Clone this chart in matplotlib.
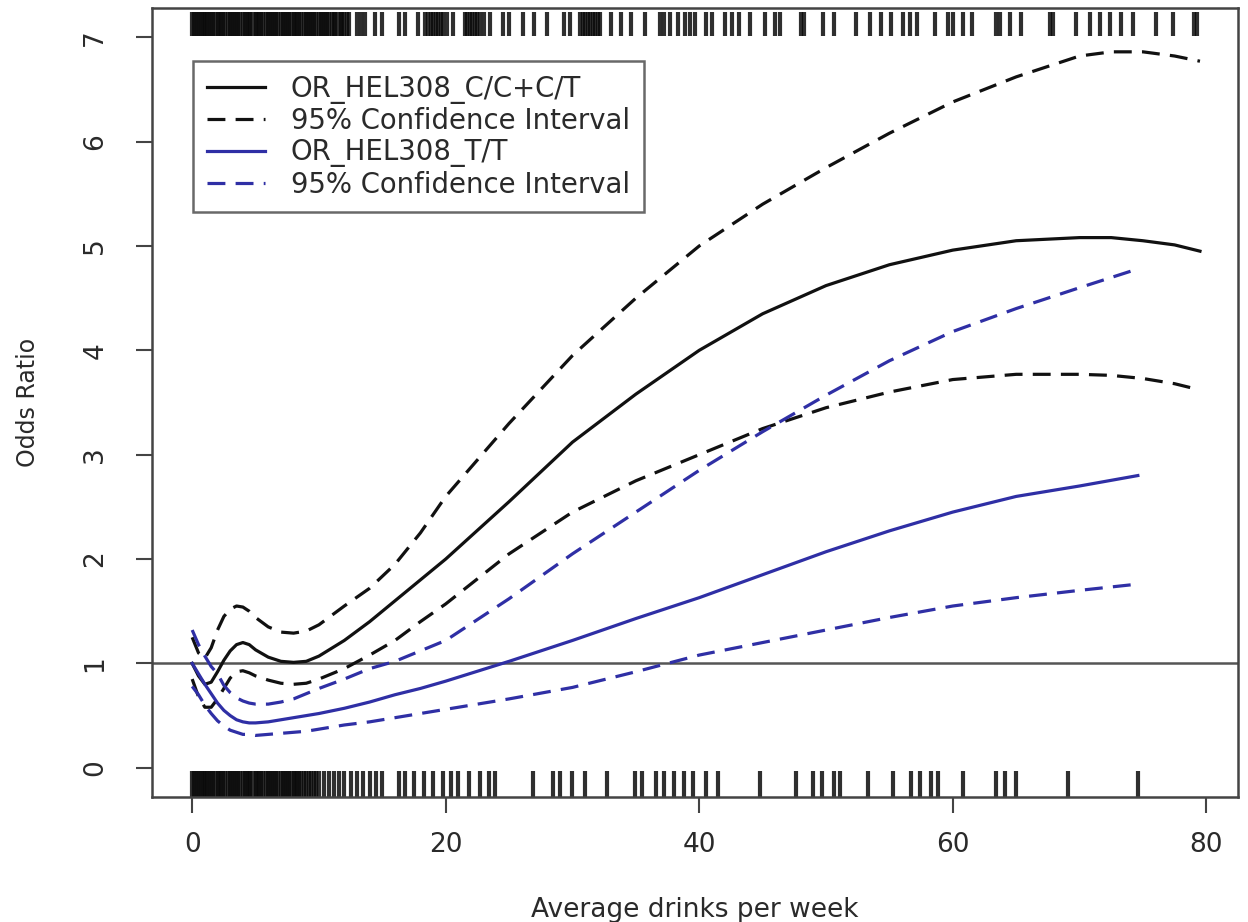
import matplotlib
matplotlib.use("Agg")
import matplotlib.pyplot as plt
import matplotlib.transforms as mtransforms

plt.rcParams['font.family'] = ['DejaVu Sans']

# ---- data ----
x_black = [0, 0.5, 1, 1.5, 2, 2.5, 3, 3.5, 4, 4.5, 5, 6, 7, 8, 9, 10, 12, 14, 16, 18,
           20, 25, 30, 35, 40, 45, 50, 55, 60, 65, 70, 72.5, 75, 77.5, 79.5]
or_cc = [1.0, 0.88, 0.8, 0.82, 0.92, 1.03, 1.12, 1.18, 1.2, 1.18, 1.13, 1.06, 1.02, 1.01, 1.02, 1.07,
         1.22, 1.4, 1.6, 1.8, 2.0, 2.55, 3.12, 3.58, 4.0, 4.35, 4.62, 4.82, 4.96, 5.05, 5.08, 5.08,
         5.05, 5.01, 4.95]
ci_cc_upper = [1.25, 1.1, 1.05, 1.15, 1.32, 1.45, 1.52, 1.55, 1.54, 1.5, 1.44, 1.35, 1.3, 1.29, 1.31, 1.37,
               1.55, 1.72, 1.95, 2.25, 2.6, 3.3, 3.95, 4.5, 5.0, 5.4, 5.75, 6.08, 6.38, 6.62, 6.82, 6.86,
               6.86, 6.82, 6.77]
ci_cc_lower = [0.85, 0.68, 0.58, 0.58, 0.66, 0.76, 0.86, 0.92, 0.93, 0.91, 0.88, 0.84, 0.81, 0.8, 0.81, 0.85,
               0.95, 1.08, 1.22, 1.4, 1.57, 2.05, 2.45, 2.75, 3.0, 3.25, 3.45, 3.6, 3.72, 3.77, 3.77, 3.76,
               3.73, 3.68, 3.62]

x_blue = [0, 0.5, 1, 1.5, 2, 2.5, 3, 3.5, 4, 4.5, 5, 6, 7, 8, 9, 10, 12, 14, 16, 18,
          20, 25, 30, 35, 40, 45, 50, 55, 60, 65, 70, 74.6]
or_tt = [1.0, 0.9, 0.8, 0.71, 0.62, 0.55, 0.5, 0.46, 0.44, 0.43, 0.43, 0.44, 0.46, 0.48, 0.5, 0.52,
         0.57, 0.63, 0.7, 0.76, 0.83, 1.02, 1.22, 1.43, 1.63, 1.85, 2.07, 2.27, 2.45, 2.6, 2.7, 2.8]
ci_tt_upper = [1.32, 1.18, 1.07, 0.97, 0.9, 0.79, 0.72, 0.67, 0.64, 0.62, 0.61, 0.61, 0.63, 0.66, 0.71, 0.76,
               0.85, 0.95, 1.02, 1.12, 1.22, 1.62, 2.05, 2.45, 2.85, 3.22, 3.57, 3.9, 4.18, 4.4, 4.6, 4.78]
ci_tt_lower = [0.78, 0.7, 0.6, 0.52, 0.45, 0.4, 0.36, 0.34, 0.32, 0.32, 0.31, 0.32, 0.33, 0.34, 0.35, 0.37,
               0.41, 0.44, 0.48, 0.52, 0.56, 0.66, 0.77, 0.92, 1.08, 1.2, 1.32, 1.44, 1.55, 1.63, 1.7, 1.76]

# rug positions (drinks per week)
rug_top = [0, 0.15, 0.3, 0.45, 0.6, 0.75, 0.9, 1, 1.15, 1.3, 1.5, 1.65, 1.8, 2, 2.15, 2.3, 2.45,
           2.6, 2.8, 3, 3.15, 3.3, 3.45, 3.6, 3.8, 4, 4.15, 4.3, 4.45, 4.6, 4.8, 5, 5.15, 5.3,
           5.45, 5.6, 5.8, 6, 6.15, 6.3, 6.45, 6.6, 6.8, 7, 7.15, 7.3, 7.45, 7.6, 7.8, 8, 8.15,
           8.3, 8.45, 8.6, 8.8, 9, 9.15, 9.3, 9.45, 9.6, 9.8, 10, 10.15, 10.3, 10.45, 10.6, 10.8,
           11, 11.15, 11.3, 11.5, 11.7, 11.85, 12, 12.2, 12.4, 13, 13.3, 13.6, 14.4, 15, 16.3,
           16.8, 17.8, 18.4, 18.6, 18.8, 19.0, 19.2, 19.4, 19.6, 19.8, 20.1, 20.6,
           21.5, 21.7, 21.9, 22.1, 22.3, 22.5, 22.7, 23, 23.5, 24.5, 25, 26.1, 27, 28, 29.3, 29.8,
           30.6, 30.8, 31.0, 31.2, 31.4, 31.6, 31.8, 32.0, 32.2, 33, 33.8, 34.6, 35.7, 36.9,
           37.2, 37.7, 38.3, 38.9, 39.3, 39.7, 40.5, 41,
           42, 42.6, 43.1, 44, 45.2, 46, 46.4, 48, 48.3, 49.8, 50.6, 52.4, 53.5, 54.3, 55.1, 56.1,
           56.6, 57.2, 58.6, 59.6, 60, 60.8, 61.5, 63.4, 63.7, 64.5, 65.4, 67.7, 67.9, 69.7, 70.8,
           71.6, 72.4, 73.3, 74.2, 76, 77.4, 79, 79.3]
rug_bottom = [0, 0.15, 0.3, 0.45, 0.6, 0.75, 0.9, 1, 1.15, 1.3, 1.5, 1.65, 1.8, 2, 2.15, 2.3,
              2.45, 2.6, 2.8, 3, 3.15, 3.3, 3.45, 3.6, 3.8, 4, 4.15, 4.3, 4.45, 4.6, 4.8, 5,
              5.15, 5.3, 5.45, 5.6, 5.8, 6, 6.15, 6.3, 6.45, 6.6, 6.8, 7, 7.15, 7.3, 7.45, 7.6,
              7.8, 8, 8.15, 8.3, 8.45, 8.6, 8.8, 9, 9.2, 9.4, 9.6, 9.8, 10, 10.4, 10.8, 11.2,
              11.6, 12, 12.5, 13, 13.5, 14, 14.5, 15, 16.3, 16.8, 17.5, 18.3, 19, 19.8, 20.4, 21,
              21.8, 22.7, 23.4, 23.9, 26.9, 28.5, 29, 30, 31, 32.7, 34.9, 35.5, 36.6, 37.2, 38,
              38.8, 39.5, 40.5, 41.5, 44.8, 47.6, 49, 49.7, 50.6, 51.1, 53.3, 55.3, 56.7, 57.4,
              58.3, 58.8, 60.8, 63.4, 64.1, 65, 69.1, 74.6]

x_ticks = [0, 20, 40, 60, 80]
y_ticks = [0, 1, 2, 3, 4, 5, 6, 7]
legend_labels = ["OR_HEL308_C/C+C/T", "95% Confidence Interval",
                 "OR_HEL308_T/T", "95% Confidence Interval"]

# ---- figure ----
W, H = 1248, 922
fig = plt.figure(figsize=(W / 100, H / 100), dpi=100)
ax = fig.add_axes([152 / W, 1 - 797 / H, (1238 - 152) / W, (797 - 8) / H])
ax.set_xlim(-3.17, 82.5)
ax.set_ylim(-0.28, 7.28)

black = '#111111'
blue = '#2f2fa5'
dash = (0, (5.6, 3.2))
lw = 2.3

ax.axhline(1, color='#555555', lw=1.8, zorder=1)

l1, = ax.plot(x_black, or_cc, color=black, lw=lw)
l2, = ax.plot(x_black, ci_cc_upper, color=black, lw=lw, linestyle=dash)
ax.plot(x_black, ci_cc_lower, color=black, lw=lw, linestyle=dash)
l3, = ax.plot(x_blue, or_tt, color=blue, lw=lw)
l4, = ax.plot(x_blue, ci_tt_upper, color=blue, lw=lw, linestyle=dash)
ax.plot(x_blue, ci_tt_lower, color=blue, lw=lw, linestyle=dash)

trans = mtransforms.blended_transform_factory(ax.transData, ax.transAxes)
ax.vlines(rug_top, 0.964, 0.995, transform=trans, color='#0a0a0a', lw=3.0, alpha=0.85)
ax.vlines(rug_bottom, 0.0, 0.033, transform=trans, color='#0a0a0a', lw=3.0, alpha=0.85)

for s in ax.spines.values():
    s.set_color('#444444')
    s.set_linewidth(1.8)

ax.set_xticks(x_ticks)
ax.set_yticks(y_ticks)
ax.set_xticklabels([str(v) for v in x_ticks])
ax.set_yticklabels([str(v) for v in y_ticks])
ax.tick_params(axis='both', direction='out', length=11.5, width=1.5, color='#444444',
               labelsize=19, labelcolor='#2a2a2a')
ax.tick_params(axis='x', pad=14)
ax.tick_params(axis='y', pad=20, labelrotation=90)
for t in ax.get_yticklabels():
    t.set_verticalalignment('center')

leg = ax.legend([l1, l2, l3, l4], legend_labels, loc='upper left',
                bbox_to_anchor=((193 - 152) / 1086, (797 - 61) / 789),
                borderaxespad=0, fontsize=19.8, frameon=True, fancybox=False,
                edgecolor='#444444', handlelength=2.1, handletextpad=0.95,
                labelspacing=0.12, borderpad=0.5)
leg.get_frame().set_linewidth(1.8)
for t in leg.get_texts():
    t.set_color('#2a2a2a')

fig.text(695 / W, 1 - 910 / H, "Average drinks per week", ha='center', va='center',
         fontsize=19, color='#2a2a2a')
fig.text(28 / W, 1 - 402 / H, "Odds Ratio", ha='center', va='center', rotation=90,
         fontsize=17, color='#2a2a2a')

fig.savefig("out.png", dpi=100)
